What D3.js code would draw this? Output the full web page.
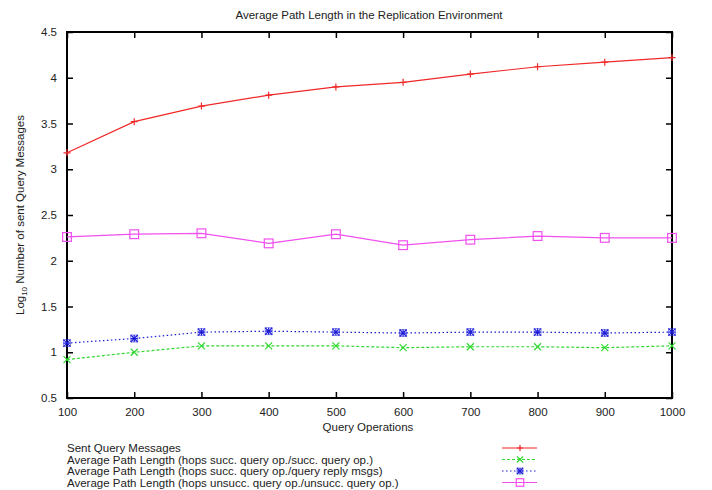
<!DOCTYPE html>
<html>
<head>
<meta charset="utf-8">
<script src="https://cdn.jsdelivr.net/npm/d3@7"></script>
<style>
	body { margin: 0; background: #fff; }
	text { font-family: "Liberation Sans", Arial, sans-serif; fill: #222; }
</style>
</head>
<body>
<svg id="chart"></svg>
<script>
const queryOps = [100, 200, 300, 400, 500, 600, 700, 800, 900, 1000];
const sentMessages = [3.18, 3.52, 3.69, 3.81, 3.90, 3.95, 4.04, 4.12, 4.17, 4.22];
const hopsSuccPerOp = [0.92, 1.00, 1.07, 1.07, 1.07, 1.05, 1.06, 1.06, 1.05, 1.07];
const hopsSuccPerReply = [1.10, 1.15, 1.22, 1.23, 1.22, 1.21, 1.22, 1.22, 1.21, 1.22];
const hopsUnsucc = [2.26, 2.29, 2.30, 2.19, 2.29, 2.17, 2.23, 2.27, 2.25, 2.25];
const yTicks = [0.5, 1, 1.5, 2, 2.5, 3, 3.5, 4, 4.5];
const seriesNames = [
	'Sent Query Messages',
	'Average Path Length (hops succ. query op./succ. query op.)',
	'Average Path Length (hops succ. query op./query reply msgs)',
	'Average Path Length (hops unsucc. query op./unsucc. query op.)',
];

const series = [
	{ name: seriesNames[0], values: sentMessages, color: '#f02828', dash: null, marker: 'plus' },
	{ name: seriesNames[1], values: hopsSuccPerOp, color: '#30d830', dash: '3,2', marker: 'cross' },
	{ name: seriesNames[2], values: hopsSuccPerReply, color: '#1c1cd8', dash: '1.5,2.5', marker: 'star' },
	{ name: seriesNames[3], values: hopsUnsucc, color: '#f050f0', dash: null, marker: 'square' },
];

const width = 712, height = 490;
const margin = { top: 32, right: 40, bottom: 92, left: 67 };

const svg = d3.select('#chart').attr('width', width).attr('height', height);

const x = d3.scaleLinear().domain([100, 1000]).range([margin.left, width - margin.right]);
const y = d3.scaleLinear().domain([0.5, 4.5]).range([height - margin.bottom, margin.top]);

// title
svg.append('text')
	.attr('x', 369)
	.attr('y', 19)
	.attr('text-anchor', 'middle')
	.style('font-size', '11.5px')
	.text('Average Path Length in the Replication Environment');

// axes with inward ticks (gnuplot style), mirrored on both sides
const tickLen = 6;
svg.append('g')
	.attr('transform', `translate(0,${y.range()[0]})`)
	.call(d3.axisBottom(x).tickValues(queryOps).tickSize(-tickLen).tickPadding(10).tickFormat(d3.format('d')))
	.call((g) => g.select('.domain').remove())
	.call((g) => g.selectAll('line').attr('stroke', '#000').attr('stroke-width', 1.5))
	.call((g) => g.selectAll('text').style('font-size', '11.5px').attr('fill', '#333'));

svg.append('g')
	.attr('transform', `translate(0,${y.range()[1]})`)
	.call(d3.axisTop(x).tickValues(queryOps).tickSize(-tickLen).tickFormat(''))
	.call((g) => g.select('.domain').remove())
	.call((g) => g.selectAll('line').attr('stroke', '#000').attr('stroke-width', 1.5));

svg.append('g')
	.attr('transform', `translate(${x.range()[0]},0)`)
	.call(d3.axisLeft(y).tickValues(yTicks).tickSize(-tickLen).tickPadding(10).tickFormat(d3.format('')))
	.call((g) => g.select('.domain').remove())
	.call((g) => g.selectAll('line').attr('stroke', '#000').attr('stroke-width', 1.5))
	.call((g) => g.selectAll('text').style('font-size', '11.5px').attr('fill', '#333'));

svg.append('g')
	.attr('transform', `translate(${x.range()[1]},0)`)
	.call(d3.axisRight(y).tickValues(yTicks).tickSize(-tickLen).tickFormat(''))
	.call((g) => g.select('.domain').remove())
	.call((g) => g.selectAll('line').attr('stroke', '#000').attr('stroke-width', 1.5));

// frame
svg.append('rect')
	.attr('x', x.range()[0])
	.attr('y', y.range()[1])
	.attr('width', x.range()[1] - x.range()[0])
	.attr('height', y.range()[0] - y.range()[1])
	.attr('fill', 'none')
	.attr('stroke', '#000')
	.attr('stroke-width', 2);

// axis labels
svg.append('text')
	.attr('x', 368)
	.attr('y', 431)
	.attr('text-anchor', 'middle')
	.style('font-size', '11.5px')
	.text('Query Operations');

const yLabel = svg.append('text')
	.attr('transform', `translate(24,${(y.range()[0] + y.range()[1]) / 2}) rotate(-90)`)
	.attr('text-anchor', 'middle')
	.style('font-size', '11.5px');
yLabel.append('tspan').text('Log');
yLabel.append('tspan').attr('dy', 3).style('font-size', '8px').text('10');
yLabel.append('tspan').attr('dy', -3).text(' Number of sent Query Messages');

// markers
function drawMarker(g, type, cx, cy, color, s) {
	if (type === 'plus' || type === 'star') {
		g.append('path').attr('d', `M${cx - s},${cy}H${cx + s}M${cx},${cy - s}V${cy + s}`)
			.attr('stroke', color).attr('stroke-width', 1.2).attr('fill', 'none');
	}
	if (type === 'cross' || type === 'star') {
		g.append('path').attr('d', `M${cx - s},${cy - s}L${cx + s},${cy + s}M${cx - s},${cy + s}L${cx + s},${cy - s}`)
			.attr('stroke', color).attr('stroke-width', 1.2).attr('fill', 'none');
	}
	if (type === 'star') {
		g.append('rect').attr('x', cx - s).attr('y', cy - s).attr('width', 2 * s).attr('height', 2 * s)
			.attr('stroke', color).attr('stroke-width', 0.8).attr('fill', 'none').attr('opacity', 0.6);
	}
	if (type === 'square') {
		const h = s * 1.25;
		g.append('rect').attr('x', cx - h).attr('y', cy - h).attr('width', 2 * h).attr('height', 2 * h)
			.attr('stroke', color).attr('stroke-width', 1.2).attr('fill', 'none');
	}
}

const line = d3.line().x((d) => x(d.x)).y((d) => y(d.y));

series.forEach((s) => {
	const pts = queryOps.map((q, i) => ({ x: q, y: s.values[i] }));
	const g = svg.append('g');
	g.append('path')
		.datum(pts)
		.attr('d', line)
		.attr('fill', 'none')
		.attr('stroke', s.color)
		.attr('stroke-width', 1.2)
		.attr('stroke-dasharray', s.dash);
	pts.forEach((p) => drawMarker(g, s.marker, x(p.x), y(p.y), s.color, 3.5));
});

// legend
const legend = svg.append('g').attr('transform', 'translate(67,452)');
series.forEach((s, i) => {
	const ly = i * 11.5;
	legend.append('text')
		.attr('x', 0)
		.attr('y', ly)
		.style('font-size', '11.5px')
		.text(s.name);
	const g = legend.append('g');
	g.append('line')
		.attr('x1', 435).attr('x2', 470)
		.attr('y1', ly - 4).attr('y2', ly - 4)
		.attr('stroke', s.color)
		.attr('stroke-width', 1.2)
		.attr('stroke-dasharray', s.dash);
	drawMarker(g, s.marker, 453, ly - 4, s.color, 3);
});
</script>
</body>
</html>
